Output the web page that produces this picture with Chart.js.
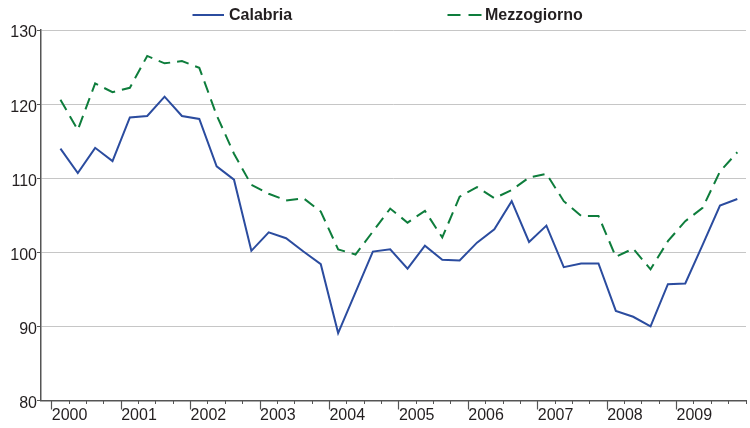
<!DOCTYPE html>
<html>
<head>
<meta charset="utf-8">
<script src="https://cdn.jsdelivr.net/npm/chart.js@4.4.1/dist/chart.umd.min.js"></script>
<style>
  html, body { margin: 0; padding: 0; background: #fff; }
  #wrap { position: relative; width: 750px; height: 428px; }
  #c { position: absolute; left: 0; top: 0; }
  .lg { position: absolute; font-family: "Liberation Sans", Arial, sans-serif; font-weight: bold;
        font-size: 16px; line-height: 16px; color: #231f20; white-space: nowrap; top: 7px; }
  svg.ls { position: absolute; left: 0; top: 0; }
</style>
</head>
<body>
<div id="wrap">
  <canvas id="c" width="750" height="428"></canvas>
  <svg class="ls" width="750" height="30">
    <line x1="192.5" y1="15" x2="224" y2="15" stroke="#2b4c9f" stroke-width="2"/>
    <line x1="447.5" y1="15" x2="481.5" y2="15" stroke="#0e7d3c" stroke-width="2" stroke-dasharray="13 8"/>
  </svg>
  <div class="lg" style="left:229px">Calabria</div>
  <div class="lg" style="left:485px">Mezzogiorno</div>
</div>
<script>
// ---- data (quarterly, 2000Q1 - 2009Q4) ----
const years = ['2000','2001','2002','2003','2004','2005','2006','2007','2008','2009'];
const quarters = years.flatMap(y => ['T1','T2','T3','T4'].map(q => y + ' ' + q));
const calabria = [
  114.0, 110.7, 114.1, 112.3,
  118.2, 118.4, 121.0, 118.4,
  118.0, 111.6, 109.8, 100.2,
  102.7, 101.9, 100.1, 98.4,
  89.1, 94.6, 100.1, 100.4,
  97.8, 100.9, 99.0, 98.9,
  101.3, 103.1, 106.9, 101.4,
  103.6, 98.0, 98.5, 98.5,
  92.1, 91.3, 90.0, 95.7,
  95.8, 101.0, 106.3, 107.2
];
const mezzogiorno = [
  120.6, 116.5, 122.8, 121.6,
  122.2, 126.5, 125.5, 125.8,
  124.9, 118.5, 113.3, 109.1,
  107.9, 107.0, 107.3, 105.5,
  100.4, 99.7, 102.8, 105.9,
  104.0, 105.6, 102.0, 107.5,
  108.8, 107.3, 108.4, 110.1,
  110.6, 106.9, 104.9, 104.9,
  99.4, 100.5, 97.7, 101.5,
  104.2, 106.0, 110.9, 113.5
];
const yTicks = [80, 90, 100, 110, 120, 130];

const BLUE = '#2b4c9f', GREEN = '#0e7d3c', AXIS = '#555555', GRID = '#c6c6c6', TEXT = '#231f20';
const FONT = '"Liberation Sans", Arial, sans-serif';
const XMIN = -1.12, XMAX = 39.5;

const toXY = arr => arr.map((v, i) => ({ x: i, y: v }));

new Chart(document.getElementById('c'), {
  type: 'line',
  data: {
    datasets: [
      { label: 'Calabria', data: toXY(calabria), borderColor: BLUE, borderWidth: 2,
        pointRadius: 0, tension: 0, fill: false },
      { label: 'Mezzogiorno', data: toXY(mezzogiorno), borderColor: GREEN, borderWidth: 2,
        borderDash: [12, 7], pointRadius: 0, tension: 0, fill: false }
    ]
  },
  options: {
    responsive: false,
    animation: false,
    layout: { padding: { top: 30, right: 4, left: 0, bottom: 0 } },
    plugins: { legend: { display: false }, tooltip: { enabled: false } },
    scales: {
      x: {
        type: 'linear', position: 'bottom', min: XMIN, max: XMAX,
        afterBuildTicks: s => { s.ticks = years.map((y, k) => ({ value: -0.5 + 4 * k })); },
        afterFit: s => { s.height = 27.5; },
        ticks: {
          callback: (v, i) => years[i], align: 'start', padding: -4,
          color: TEXT, font: { family: FONT, size: 16 }, maxRotation: 0, autoSkip: false
        },
        grid: { drawOnChartArea: false, drawTicks: true, tickLength: 9, tickColor: AXIS, tickWidth: 1.2 },
        border: { display: true, color: AXIS, width: 1.5 }
      },
      x2: {
        type: 'linear', axis: 'x', position: { y: 80 }, min: XMIN, max: XMAX,
        afterBuildTicks: s => { s.ticks = quarters.concat(['end']).map((q, k) => ({ value: -0.5 + k })); },
        ticks: { display: false },
        grid: { drawOnChartArea: false, drawTicks: true, tickLength: 3, tickColor: AXIS, tickWidth: 1 },
        border: { display: false }
      },
      y: {
        type: 'linear', position: 'left', min: 80, max: 130,
        afterBuildTicks: s => { s.ticks = yTicks.map(v => ({ value: v })); },
        afterFit: s => { s.width = 41; },
        ticks: { color: TEXT, font: { family: FONT, size: 16 }, padding: 0, labelOffset: 3 },
        grid: { color: GRID, lineWidth: 1, drawTicks: true, tickLength: 4, tickColor: AXIS },
        border: { display: true, color: AXIS, width: 1.5 }
      }
    }
  }
});
</script>
</body>
</html>
